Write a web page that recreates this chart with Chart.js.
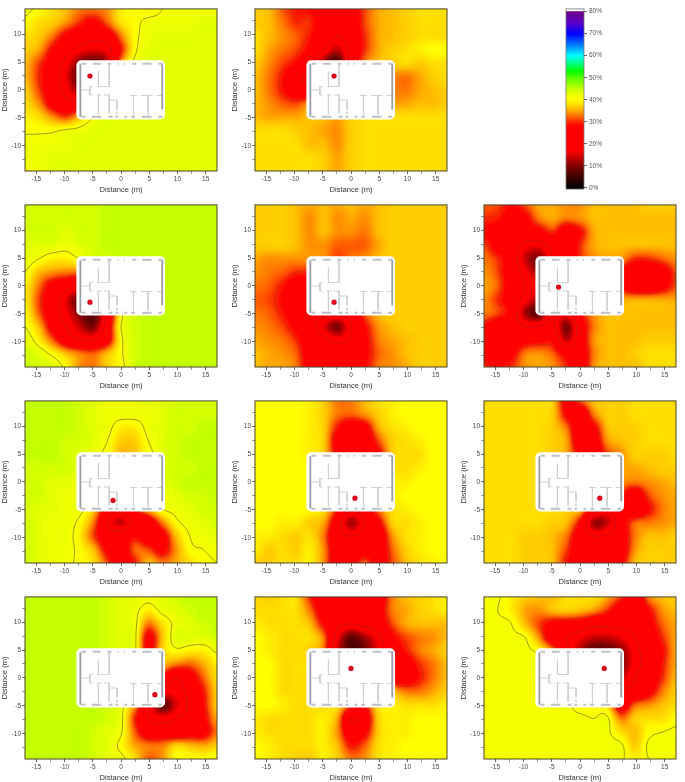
<!DOCTYPE html>
<html><head><meta charset="utf-8">
<style>html,body{margin:0;padding:0;background:#fff;width:685px;height:782px;overflow:hidden}canvas{position:absolute;display:block}</style>
<script src="https://cdn.jsdelivr.net/npm/chart.js@4"></script>
</head><body>
<script>
const gridX=[-17,-14.57,-12.14,-9.71,-7.29,-4.86,-2.43,0,2.43,4.86,7.29,9.71,12.14,14.57,17];
const gridY=[14.5,12.08,9.67,7.25,4.83,2.42,0,-2.42,-4.83,-7.25,-9.67,-12.08,-14.5];
const tx01=[-5.5,2.5],tx02=[-3,2.5],tx03=[-5.5,-2.9],tx04=[-3,-2.9],tx05=[-3.8,-0.2],tx06=[-1.4,-3.3],tx07=[0.7,-2.9],tx08=[3.5,-2.9],tx09=[6,-3],tx10=[0,1.7],tx11=[4.3,1.7];
const map01=[
[42,40,38,36,33,33,34,39,40,39,41,42,42,42,42],
[40,38,37,34,30,27,32,38,40,42,42,42,42,43,43],
[38,37,33,27,24,22,24,33,40,42,43,43,43,43,43],
[37,35,28,23,18,16,18,29,40,43,43,43,43,43,43],
[36,31,25,18,10,8,14,34,42,43,43,43,43,43,43],
[36,30,24,16,8,12,30,42,43,43,43,43,43,43,43],
[37,31,24,18,12,24,40,43,43,43,43,43,43,43,43],
[38,34,26,22,24,36,42,43,43,43,43,43,43,43,43],
[39,38,34,31,36,41,43,43,43,43,43,43,43,43,43],
[40.5,40.5,40.5,41.5,42,43,43,43,43,43,43,43,43,43,43],
[42,42,42,42,43,43,43,43,43,43,43,43,43,43,43],
[42,42,43,43,43,43,43,43,43,43,43,43,43,43,43],
[42,42,43,43,43,43,43,43,43,43,43,43,43,43,43]];
const map02=[
[37,36,32,29,28,24,24,25,31,35,36,37,38,38,38],
[37,36,33,30,30,24,22,24,31,35,36,37,38,38,38],
[38,36,34,32,29,24,20,24,30,35,36,37,38,38,38],
[38,35,33,31,27,20,14,22,30,35,37,38,39,40,40],
[37,34,31,28,22,12,8,24,33,36,37,38,37,38,38],
[36,33,29,23,18,20,30,34,35,36,34,33,35,37,38],
[36,33,29,24,22,30,34,36,36,36,34,33,35,36,37],
[36,34,32,31,34,36,37,37,37,37,35,35,36,36,37],
[36,35,35,35,36,36,35,37,38,38,38,38,38,38,38],
[38,38,38,37,36,35,34,37,38,38,38,38,38,38,38],
[38,38,38,38,36,36,34,37,38,38,38,38,38,38,38],
[38,38,38,38,38,37,35,37,38,38,38,38,38,38,38],
[38,38,38,38,38,37,35,37,38,38,38,38,38,38,38]];
const map03=[
[44,44,44,44,44,44,45,45,45,45,45,45,45,45,45],
[44,44,44,44,44,44,45,45,45,45,45,45,45,45,45],
[44,44,44,43,44,44,45,45,45,45,45,45,45,45,45],
[43,43,43,42,43,44,45,45,45,45,45,45,45,45,45],
[43,41,39,39,41,43,44,45,45,45,45,45,45,45,45],
[41,36,34,33,33,38,43,45,45,45,45,45,45,45,45],
[39,33,26,23,20,30,42,45,45,45,45,45,45,45,45],
[39,31,24,16,9,20,36,45,45,45,45,45,45,45,45],
[40,32,24,17,10,8,22,40,44,45,45,45,45,45,45],
[41,36,26,20,14,10,24,41,44,45,45,45,45,45,45],
[43,39,32,24,20,20,26,40,44,45,45,45,45,45,45],
[44,43,40,36,33,32,36,40.5,44,45,45,45,45,45,45],
[45,44,43,40,34,33,37,40,44,45,45,45,45,45,45]];
const map04=[
[37,37,37,36,35,36,35,36,35,36,37,37,37,37,37],
[37,37,37,36,34,36,34,35,34,36,37,37,37,37,37],
[37,37,37,36,34,36,34,34,33,36,37,37,37,37,37],
[37,37,37,36,34,34,32,32,32,35,37,37,37,37,37],
[35,34,34,34,34,34,31,33,34,36,37,37,37,37,37],
[34,33,32,30,30,32,33,34,35,36,37,37,37,37,37],
[33,32,29,25,24,28,33,34,35,36,37,37,37,37,37],
[32,31,28,23,21,24,30,33,35,36,37,37,37,37,37],
[33,32,29,25,21,22,22,24,32,36,37,37,37,37,37],
[34,33,31,27,23,16,10,20,28,34,36,37,37,37,37],
[35,34,33,30,24,22,18,21,27,33,35,36,37,37,37],
[36,35,34,32,25,24,24,23,27,32,34,36,37,37,37],
[36,35,35,33,26,24,25,24,28,33,34,35,37,37,37]];
const map05=[
[32,31,28,31,35,35,34,34,36,36,36,36,37,37,37],
[30,29,26,27,33,35,33,34,36,36,36,36,36,36,36],
[28,26,24,25,26,30,24,28,35,36,36,36,36,36,36],
[31,26,24,18,17,22,22,30,35,36,36,36,36,36,36],
[33,30,25,14,10,20,22,30,34,35,34,30,30,32,34],
[34,31,24,18,12,20,26,32,34,34,28,22,22,25,31],
[35,32,25,20,18,24,30,34,35,35,28,23,23,26,31],
[34,30,25,18,13,20,26,32,35,35,35,35,35,35,35],
[33,31,26,12,8,20,18,28,34,36,36,36,36,36,36],
[28,24,22,20,20,22,10,24,33,36,36,36,36,36,36],
[24,22,23,26,27,27,14,24,34,36,36,36,37,37,37],
[26,24,27,33,34,32,26,24,33,36,36,37,38,38,38],
[30,28,30,34,35,34,30,23,34,36,36,36,38,38,38]];
const map06=[
[45,45,45,45,44,43,42,42,42,43,43,44,44,44,44],
[45,45,45,45,44,43,42,42,42,42,43,44,44,44,44],
[45,45,45,45,44,43,42,39,39,42,43,44,44,45,45],
[45,45,45,44,44,43,41,37,37,41,43,44,45,45,45],
[45,45,45,44,43,42,40,36,37,40,43,44,45,45,45],
[44,44,44,44,43,42,41,40,40,42,43,44,44,45,45],
[44,44,43,43,42,42,42,42,42,42,43,44,45,45,45],
[44,44,43,42,42,41,40,40,41,42,42,43,44,44,45],
[44,43,43,42,42,37,26,24,30,36,41,42,43,44,44],
[44,43,42,42,40,33,20,14,22,24,33,40,42,43,44],
[44,43,42,42,39,31,24,24,28,24,26,36,41,42,43],
[44,43,42,42,40,36,27,24,32,31,27,34,40,41,42],
[44,43,42,42,40,38,31,23,29,36,33,35,38,40,41]];
const map07=[
[40,40,40,40,39,37,33,33,36,38,39,40,40,40,40],
[40,40,40,40,39,37,33,32,34,37,39,40,40,40,40],
[40,40,40,40,39,37,29,24,26,35,38,39,40,40,40],
[40,40,40,40,39,37,26,22,23,31,37,38,39,40,40],
[40,40,40,40,39,37,28,22,25,28,37,38,38,40,40],
[40,40,40,40,40,39,36,32,33,35,38,38,39,40,40],
[40,40,40,40,40,39,38,38,38,38,39,39,40,40,40],
[40,40,40,40,40,39,36,33,34,37,39,40,40,40,40],
[40,40,40,40,40,38,30,22,25,33,38,39,40,40,40],
[40,40,39,39,37,35,24,12,20,27,37,38,39,40,40],
[39,39,38,37,38,33,22,20,22,23,34,38,39,40,40],
[39,37,38,37,39,34,24,24,24,24,32,37,39,40,40],
[37,37,38,38,39,34,24,25,32,25,31,36,38,39,40]];
const map08=[
[38,38,38,38,38,37,27,31,36,37,37,38,38,38,38],
[38,38,38,38,38,37,28,22,33,37,37,38,38,38,38],
[38,38,38,38,38,37,33,23,27,36,37,37,38,38,38],
[38,38,38,38,38,37,35,24,25,34,36,37,38,38,38],
[38,38,38,38,38,37,35,28,24,31,34,37,37,37,38],
[38,38,38,38,38,38,37,34,34,35,35,35,36,37,37],
[38,38,38,38,38,38,38,38,37,36,34,33,34,35,36],
[38,38,38,38,38,38,38,38,36,36,30,24,31,34,35],
[38,38,38,38,38,38,37,36,26,20,28,22,28,33,35],
[38,38,38,38,38,37,36,28,12,14,25,32,33,34,35],
[38,38,38,37,37,36,33,24,20,21,25,33,36,36,37],
[38,38,38,37,37,36,31,24,24,24,25,34,37,37,37],
[38,38,38,37,37,36,29,25,26,25,27,36,37,37,37]];
const map09=[
[45,45,45,45,45,45,44,43,43,42,43,44,45,45,45],
[45,45,45,45,45,45,44,43,42,39,42,43,44,45,45],
[45,45,45,45,45,45,44,43,42,33,38,42,43,44,45],
[45,45,45,45,45,45,44,43,42,27,36,43,43,43,44],
[45,45,45,45,45,45,44,43,42,28,37,40,39,39,41.5],
[45,45,45,45,45,45,44,43,42,40,36,33,32,35,39],
[45,45,45,45,45,45,44,43,42,40,28,20,25,32,38],
[45,45,45,45,45,45,44,43,42,38,20,18,22,29,37],
[45,45,45,45,45,45,44,42,35,22,8,15,21,28,37],
[45,45,45,45,45,45,44,42,30,20,18,20,22,27,35],
[45,45,45,45,45,44,43,41.5,32,24,24,23,25,26,33],
[45,45,45,45,45,44,43,40,35,33,33,37,36,35,37],
[45,45,45,45,45,44,43,42,38,32,34,40,40,40,41]];
const map10=[
[38,37,38,38,30,22,24,24,24,24,33,36,37,38,39],
[38,38,38,38,33,25,24,24,24,26,33,35,37,38,39],
[39,38,38,38,36,28,22,20,22,24,31,35,36,36,36],
[40,39,38,38,38,33,17,8,12,18,27,31,33,34,36],
[40,39,38,38,37,33,16,8,10,17,24,29,33,35,37],
[40,40,38,38,38,36,30,24,24,24,24,25,30,33,36],
[40,40,38,38,38,38,36,34,34,32,26,25,29,33,36],
[40,40,38,38,38,38,38,36,36,36,36,33,33,35,37],
[40,40,39,38,38,38,38,32,30,38,39,38,38,38,39],
[39,38,38,38,38,39,35,20,24,37,39,39,40,40,40],
[39,38,38,38,38,39,34,24,27,37,39,39,40,40,40],
[40,39,38,38,38,39,36,29,32,38,39,40,40,40,40],
[40,39,38,37,37,39,37,33,34,38,39,40,40,40,40]];
const map11=[
[41.5,41.3,39,37,36,36,38,38,38,35,30,22,33,36,37],
[41.5,41,39,35,34,36,37,36,34,30,24,22,28,34,36],
[41.5,41.5,41,36,31,27,26,25,22,22,22,22,26,32,35],
[41.5,41.5,41.5,41,34,24,20,17,14,14,16,20,24,30,35],
[41.5,41.5,41.5,41.5,40,34,23,14,8,8,11,18,23,28,35],
[41.5,41.5,41.5,41.5,41.5,40,34,24,16,12,10,18,22,29,35],
[41.5,41.5,41.5,41.5,41.5,41.5,40,34,28,20,15,20,23,30,36],
[41.5,41.5,41.5,41.5,41.5,41.5,41.5,40,36,30,22,22,26,33,37],
[41.5,41.5,41.5,41.5,41.5,41.5,41.5,40,39,37,25,32,34,36,38],
[41.5,41.5,41.5,41.5,41.5,41.5,41.5,41.5,41,41.5,33,37,38,38,40],
[41.5,41.5,41.5,41.5,41.5,41.5,41.5,41.5,41.5,41.5,38,36,40,41,41.5],
[41.5,41.5,41.5,41.5,41.5,41.5,41.5,41.5,41.5,41.5,41.5,37,41.5,41.5,41.5],
[41.5,41.5,41.5,41.5,41.5,41.5,41.5,41.5,41.5,41.5,41.5,39,41,41.5,41.5]];
const panels=[
[map01,tx01,25,7],[map02,tx02,255,7],
[map03,tx03,25,203],[map04,tx04,255,203],[map05,tx05,484,203],
[map06,tx06,25,399],[map07,tx07,255,399],[map08,tx08,484,399],
[map09,tx09,25,595],[map10,tx10,255,595],[map11,tx11,484,595]];
const colorStops=[[0,[0,0,0]],[5,[60,0,0]],[10,[130,0,0]],[17,[255,0,0]],[28,[255,0,0]],[30,[255,40,0]],[33,[255,120,0]],[36,[255,190,0]],[38,[255,222,0]],[40,[255,255,0]],[41,[250,255,0]],[43,[228,255,0]],[45,[195,255,0]],[50,[90,255,0]],[53,[0,255,0]],[57,[0,255,150]],[60,[0,255,255]],[65,[0,120,255]],[70,[0,0,255]],[75,[90,0,200]],[80,[110,0,130]]];
const contourLevels=[10,20,30,41];
const scalePct=[0,10,20,30,40,50,60,70,80];
const building=[-7.9,5.3,7.8,-5.3];
const outerWalls=[[-7.2,4.6,-7.2,-4.8],[7.3,4.6,7.3,-3.5]];
const windows=[[-7,4.7,-6.2,4.7],[-5,4.7,-3.6,4.7],[-2.4,4.7,-1.7,4.7],[-0.6,4.7,-0.4,4.7],[0.5,4.7,0.7,4.7],[2,4.7,2.7,4.7],[3.8,4.7,5.4,4.7],[6.6,4.7,7.4,4.7],
[-7,-4.8,-6.3,-4.8],[-5.2,-4.8,-3.5,-4.8],[-2.2,-4.8,-1.5,-4.8],[-1,-4.8,-0.5,-4.8],[0.6,-4.8,1.1,-4.8],[1.8,-4.8,2.5,-4.8],[3.7,-4.8,5.4,-4.8],[6.6,-4.8,7.3,-4.8]];
const innerWalls=[[-4,3.3,-4,0.6],[-2.1,4.5,-2.1,0.6],[-4,0.6,-2.1,0.6],[-7,0,-5.5,0],[-5.5,0.6,-5.5,-0.9],[-5.5,0.6,-5,0.6],[-5.5,-0.9,-5,-0.9],[-4.3,-0.9,-3.5,-0.9],[-4,-0.9,-4,-4.4],[-3,-0.9,-2,-0.9],[-2.1,-0.9,-2.1,-4.2],[-2.1,-1.8,-0.7,-1.8],[-0.7,-1.8,-0.7,-3.5],[-0.7,-3.9,-0.7,-4.3],[1.6,-1,2.8,-1],[2.2,-1,2.2,-4.4],[3.5,-1,5.6,-1],[4.8,-1,4.8,-4.4],[6.3,-1,7.2,-1]];

const lut=[];
for(let i=0;i<=800;i++){const v=i/10;let k=0;while(k<colorStops.length-2&&v>colorStops[k+1][0])k++;
 const a=colorStops[k],b=colorStops[k+1],t=(v-a[0])/(b[0]-a[0]);
 lut.push(a[1].map((c,j)=>Math.round(c+(b[1][j]-c)*t)));}
function cr(p0,p1,p2,p3,t){return p1+0.5*t*(p2-p0+t*(2*p0-5*p1+4*p2-p3+t*(3*(p1-p2)+p3-p0)));}
function sample(rows,x,y){
 const fx=Math.min(gridX.length-1.0001,Math.max(0,(x-gridX[0])/(gridX[gridX.length-1]-gridX[0])*(gridX.length-1)));
 const fy=Math.min(gridY.length-1.0001,Math.max(0,(gridY[0]-y)/(gridY[0]-gridY[gridY.length-1])*(gridY.length-1)));
 const i=Math.floor(fx),j=Math.floor(fy),tx=fx-i,ty=fy-j,c=[];
 for(let n=-1;n<=2;n++){const r=rows[Math.min(rows.length-1,Math.max(0,j+n))];
  c.push(cr(r[Math.max(0,i-1)],r[i],r[i+1],r[Math.min(r.length-1,i+2)],tx));}
 return Math.max(0,Math.min(80,cr(c[0],c[1],c[2],c[3],ty)));
}
function segs(list){const out=[];list.forEach(s=>{out.push({x:s[0],y:s[1]},{x:s[2],y:s[3]},{x:null,y:null});});return out;}
const surfacePlugin={id:'surface',
 beforeDatasetsDraw(chart){
  const rows=chart.options.plugins.surface.rows,{ctx,chartArea:a,scales:{x:sx,y:sy}}=chart;
  const W=Math.round(a.width),H=Math.round(a.height),L=Math.round(a.left),T=Math.round(a.top);
  const off=document.createElement('canvas');off.width=W;off.height=H;
  const oc=off.getContext('2d'),img=oc.createImageData(W,H);
  for(let py=0;py<H;py++){const y=sy.getValueForPixel(T+py+.5);
   for(let px=0;px<W;px++){const x=sx.getValueForPixel(L+px+.5);
    const c=lut[Math.round(sample(rows,x,y)*10)],o=(py*W+px)*4;
    img.data[o]=c[0];img.data[o+1]=c[1];img.data[o+2]=c[2];img.data[o+3]=255;}}
  oc.putImageData(img,0,0);
  ctx.save();ctx.beginPath();ctx.rect(L,T,W,H);ctx.clip();
  ctx.drawImage(off,L,T);
  const st=2,nx=Math.ceil(W/st),ny=Math.ceil(H/st),f=[];
  for(let j=0;j<=ny;j++){f.push([]);const y=sy.getValueForPixel(T+j*st);
   for(let i=0;i<=nx;i++)f[j].push(sample(rows,sx.getValueForPixel(L+i*st),y));}
  contourLevels.forEach(lv=>{
   ctx.beginPath();
   for(let j=0;j<ny;j++)for(let i=0;i<nx;i++){
    const a0=f[j][i],b0=f[j][i+1],c0=f[j+1][i+1],d0=f[j+1][i],p=[];
    const X=L+i*st,Y=T+j*st;
    if((a0<lv)!==(b0<lv))p.push([X+st*(lv-a0)/(b0-a0),Y]);
    if((b0<lv)!==(c0<lv))p.push([X+st,Y+st*(lv-b0)/(c0-b0)]);
    if((d0<lv)!==(c0<lv))p.push([X+st*(lv-d0)/(c0-d0),Y+st]);
    if((a0<lv)!==(d0<lv))p.push([X,Y+st*(lv-a0)/(d0-a0)]);
    for(let k=0;k+1<p.length;k+=2){ctx.moveTo(p[k][0],p[k][1]);ctx.lineTo(p[k+1][0],p[k+1][1]);}
   }
   ctx.strokeStyle=lv===41?'rgba(60,60,30,.7)':'rgba(90,50,50,.4)';ctx.lineWidth=.7;ctx.stroke();
  });
  const bx=sx.getPixelForValue(building[0]),by=sy.getPixelForValue(building[1]),bx2=sx.getPixelForValue(building[2]),by2=sy.getPixelForValue(building[3]);
  ctx.beginPath();ctx.roundRect(bx,by,bx2-bx,by2-by,5);ctx.fillStyle='#fff';ctx.fill();
  ctx.restore();
 },
 afterDatasetsDraw(chart){const {ctx,chartArea:a}=chart;ctx.save();ctx.strokeStyle='#4a4428';ctx.lineWidth=1;ctx.strokeRect(a.left,a.top,a.width,a.height);ctx.restore();}
};
const tickFont={family:'"Liberation Sans",Arial,sans-serif',size:6.5};
const titleFont={family:'"Liberation Sans",Arial,sans-serif',size:7.6};
function axis(min,max,pos,fit){return {type:'linear',position:pos,min,max,
 title:{display:true,text:'Distance (m)',color:'#333',font:titleFont,padding:0},
 ticks:{stepSize:2.5,includeBounds:false,autoSkip:false,maxRotation:0,color:'#444',font:tickFont,padding:1,
  callback:v=>Math.abs(v%5)<1e-6?String(v):''},
 grid:{display:true,drawOnChartArea:false,drawTicks:true,tickLength:3,tickColor:'#555',tickWidth:c=>Math.abs(c.tick.value%5)<1e-6?.9:.6},
 border:{display:false},afterFit:fit};}
panels.forEach(([rows,tx,left,top])=>{
 const c=document.createElement('canvas');c.width=221;c.height=190;
 c.style.left=(left-25)+'px';c.style.top=(top-3)+'px';c.style.width='221px';c.style.height='190px';document.body.appendChild(c);
 const nodes=[];gridY.forEach((y,j)=>gridX.forEach((x,i)=>nodes.push({x,y,v:rows[j][i]})));
 new Chart(c,{type:'scatter',plugins:[surfacePlugin],data:{datasets:[
  {label:'Transmitter',data:[{x:tx[0],y:tx[1]}],pointRadius:2.6,pointBackgroundColor:'#e0001a',pointBorderWidth:0,order:0},
  {label:'Outer walls',data:segs(outerWalls),showLine:true,pointRadius:0,borderColor:'#9c9ca6',borderWidth:1.8,order:1},
  {label:'Windows',data:segs(windows),showLine:true,pointRadius:0,borderColor:'#c0c0c4',borderWidth:2,order:2},
  {label:'Inner walls',data:segs(innerWalls),showLine:true,pointRadius:0,borderColor:'#cfcfcf',borderWidth:1,order:3},
  {label:'Coverage',data:nodes,pointRadius:0,showLine:false,order:4}
 ]},options:{responsive:false,animation:false,events:[],devicePixelRatio:1,
  layout:{padding:{top:3,right:3,left:0,bottom:0}},
  plugins:{legend:{display:false},tooltip:{enabled:false},surface:{rows}},
  scales:{x:axis(-17,17,'bottom',s=>{s.height=23;}),y:axis(-14.5,14.5,'left',s=>{s.width=25;})}}});
});
// colour scale
(function(){
 const c=document.createElement('canvas');c.width=60;c.height=192;c.style.left='563px';c.style.top='3px';c.style.width='60px';c.style.height='192px';document.body.appendChild(c);
 new Chart(c,{type:'bar',data:{labels:['scale'],datasets:[{label:'Scale',data:[[-0.5,80]],barPercentage:1,categoryPercentage:1,borderWidth:0,
  backgroundColor(ctx){const a=ctx.chart.chartArea;if(!a)return '#000';const y=ctx.chart.scales.y,g=ctx.chart.ctx.createLinearGradient(0,y.getPixelForValue(0),0,y.getPixelForValue(80));
   colorStops.forEach(s=>g.addColorStop(s[0]/80,'rgb('+s[1].join(',')+')'));return g;}}]},
 plugins:[{id:'frame',afterDatasetsDraw(ch){const {ctx,chartArea:a}=ch;ctx.save();ctx.strokeStyle='#777';ctx.lineWidth=.8;ctx.strokeRect(a.left,a.top,a.width,a.height);ctx.restore();}}],
 options:{responsive:false,animation:false,events:[],devicePixelRatio:1,layout:{padding:{top:3,bottom:1,left:3,right:0}},
  plugins:{legend:{display:false},tooltip:{enabled:false}},
  scales:{x:{display:false},y:{position:'right',min:-0.5,max:81.2,afterBuildTicks(s){s.ticks=scalePct.map(v=>({value:v}));},
   ticks:{color:'#555',font:tickFont,padding:2,callback:v=>v+'%'},
   grid:{drawOnChartArea:false,tickLength:3,tickColor:'#666'},border:{display:false},afterFit:s=>{s.width=39;}}}}});
})();
</script>
</body></html>
